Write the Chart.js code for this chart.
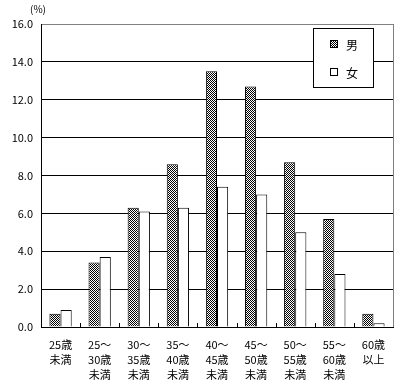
<!DOCTYPE html>
<html>
<head>
<meta charset="utf-8">
<script src="https://cdn.jsdelivr.net/npm/chart.js@4/dist/chart.umd.min.js"></script>
<style>
  html, body { margin: 0; padding: 0; background: #fff; }
  #wrap { width: 405px; height: 392px; }
</style>
</head>
<body>
<div id="wrap"><canvas id="myChart" width="405" height="392"></canvas></div>
<script>
  // data
  const labels = [
    ['25歳', '未満'],
    ['25～', '30歳', '未満'],
    ['30～', '35歳', '未満'],
    ['35～', '40歳', '未満'],
    ['40～', '45歳', '未満'],
    ['45～', '50歳', '未満'],
    ['50～', '55歳', '未満'],
    ['55～', '60歳', '未満'],
    ['60歳', '以上']
  ];
  const male = [0.7, 3.4, 6.3, 8.6, 13.5, 12.7, 8.7, 5.7, 0.7];
  const female = [0.9, 3.7, 6.1, 6.3, 7.4, 7.0, 5.0, 2.8, 0.2];
  const seriesNames = ['男', '女'];
  const yTicks = [0, 2, 4, 6, 8, 10, 12, 14, 16];
  const unitLabel = '(%)';

  const FONT = "'Noto Sans CJK JP', 'DejaVu Sans', sans-serif";

  // dotted fill like the original
  const pc = document.createElement('canvas');
  pc.width = 2; pc.height = 2;
  const pctx = pc.getContext('2d');
  pctx.fillStyle = '#fff';
  pctx.fillRect(0, 0, 2, 2);
  pctx.fillStyle = '#000';
  pctx.fillRect(0, 0, 1, 1);
  pctx.fillRect(1, 1, 1, 1);
  const hatch = pctx.createPattern(pc, 'repeat');

  // extras: right border, small x ticks, unit, legend box
  const extras = {
    id: 'extras',
    afterDraw(chart) {
      const ctx = chart.ctx;
      const a = chart.chartArea;
      const xs = chart.scales.x;
      ctx.save();
      ctx.lineWidth = 1;

      ctx.strokeStyle = '#808080';
      ctx.beginPath();
      ctx.moveTo(Math.round(a.right) + 0.5, a.top);
      ctx.lineTo(Math.round(a.right) + 0.5, a.bottom);
      ctx.stroke();

      ctx.strokeStyle = '#000';
      ctx.beginPath();
      for (let i = 0; i < labels.length - 1; i++) {
        const x = Math.round((xs.getPixelForValue(i) + xs.getPixelForValue(i + 1)) / 2) + 0.5;
        ctx.moveTo(x, a.bottom);
        ctx.lineTo(x, a.bottom - 4);
      }
      ctx.stroke();

      ctx.fillStyle = '#000';
      ctx.font = '10px ' + FONT;
      ctx.textAlign = 'center';
      ctx.textBaseline = 'middle';
      ctx.fillText(unitLabel, a.left - 3, 9);

      // legend
      const bx = 313, by = 28, bw = 60, bh = 59;
      ctx.fillStyle = '#fff';
      ctx.fillRect(bx, by, bw, bh);
      ctx.strokeStyle = '#000';
      ctx.strokeRect(bx + 0.5, by + 0.5, bw, bh);
      const fills = [hatch, '#fff'];
      seriesNames.forEach((name, i) => {
        const cy = by + 16 + i * 28;
        ctx.fillStyle = fills[i];
        ctx.fillRect(318 + 13, cy - 3, 6, 6);
        ctx.strokeStyle = '#000';
        ctx.strokeRect(330.5, cy - 3.5, 7, 7);
        ctx.fillStyle = '#000';
        ctx.font = '12px ' + FONT;
        ctx.textAlign = 'left';
        ctx.fillText(name, 346, cy + 1);
      });
      ctx.restore();
    }
  };

  const data = {
    labels: labels,
    datasets: [{
      label: seriesNames[0],
      data: male,
      backgroundColor: hatch,
      borderColor: '#000',
      borderWidth: 1
    }, {
      label: seriesNames[1],
      data: female,
      backgroundColor: '#fff',
      borderColor: '#000',
      borderWidth: 1
    }]
  };

  const config = {
    type: 'bar',
    data: data,
    options: {
      responsive: false,
      animation: false,
      layout: { padding: { top: 24, right: 12, left: 0, bottom: 0 } },
      datasets: { bar: { categoryPercentage: 0.57, barPercentage: 1.0 } },
      plugins: { legend: { display: false }, tooltip: { enabled: false } },
      scales: {
        x: {
          grid: { display: false, drawTicks: false },
          border: { display: true, color: '#000', width: 1 },
          ticks: {
            color: '#000', maxRotation: 0, autoSkip: false, padding: 10,
            font: { family: FONT, size: 11, lineHeight: 1.36 }
          },
          afterFit(scale) { scale.height = 65; }
        },
        y: {
          min: 0, max: 16,
          afterBuildTicks(scale) { scale.ticks = yTicks.map(v => ({ value: v })); },
          grid: {
            drawTicks: false,
            color: ctx => ctx.tick && ctx.tick.value === 16 ? '#808080' : '#000'
          },
          border: { display: true, color: '#000', width: 1 },
          ticks: {
            color: '#000', padding: 8,
            font: { family: FONT, size: 11 },
            callback: v => v.toFixed(1)
          },
          afterFit(scale) { scale.width = 41; }
        }
      }
    },
    plugins: [extras]
  };

  const myChart = new Chart(document.getElementById('myChart'), config);
</script>
</body>
</html>
